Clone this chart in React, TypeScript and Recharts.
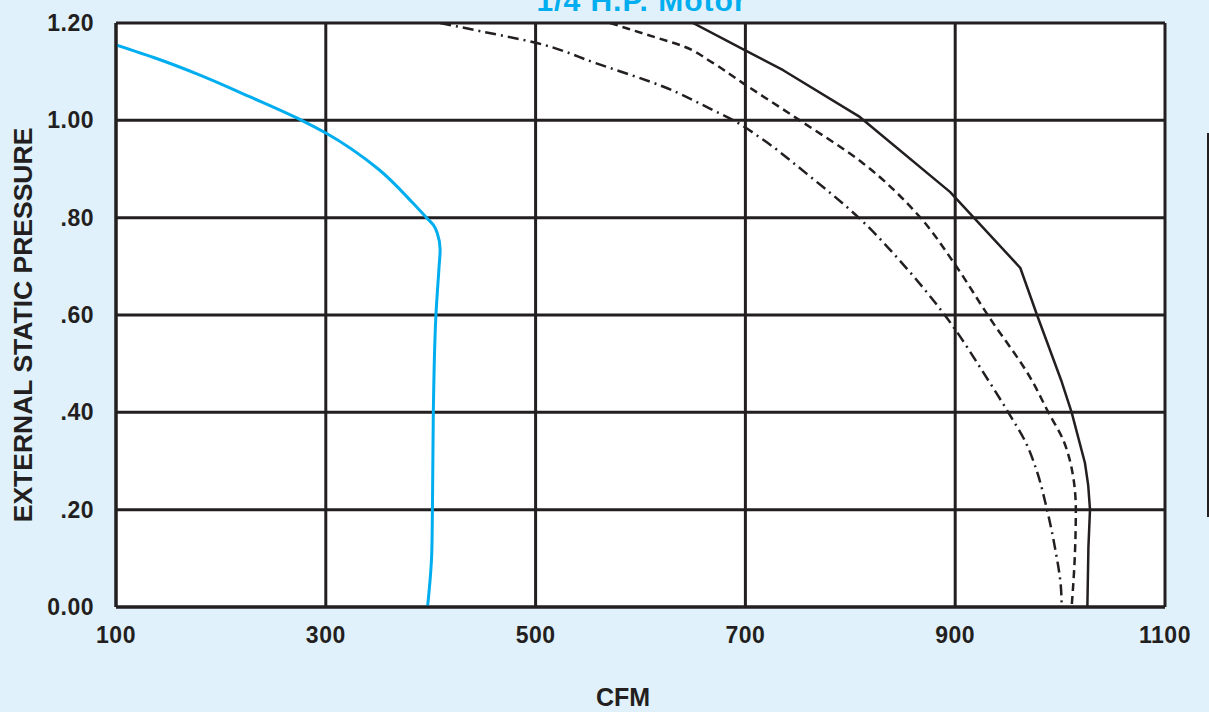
import { CartesianGrid, Label, Line, LineChart, XAxis, YAxis } from "recharts";

// fan curves: CFM vs external static pressure
const lowSpeedCfm = [100, 140, 180, 228, 277, 300, 350, 383, 396, 402.5, 406.3, 409, 408, 405, 402.5, 401.6, 401, 397];
const lowSpeedEsp = [1.155, 1.126, 1.093, 1.048, 1.0, 0.974, 0.9, 0.83, 0.8, 0.785, 0.768, 0.734, 0.7, 0.6, 0.4, 0.19, 0.11, 0];

const highSpeedCfm = [650, 698, 736, 809, 895, 962, 978, 1001, 1011, 1023.7, 1026.8, 1028.5, 1027, 1026];
const highSpeedEsp = [1.2, 1.146, 1.103, 1.007, 0.853, 0.697, 0.6, 0.466, 0.4, 0.296, 0.25, 0.2, 0.123, 0];

const medSpeedCfm = [571, 606, 641, 669, 698, 749, 812, 866, 901, 931, 973, 988.8, 1003, 1011, 1015, 1014, 1011];
const medSpeedEsp = [1.2, 1.176, 1.152, 1.118, 1.076, 1.004, 0.912, 0.802, 0.7, 0.6, 0.466, 0.4, 0.343, 0.285, 0.2, 0.103, 0];

const lowMedCfm = [409, 450, 499, 558, 622, 669, 688.5, 717, 758, 808, 852, 890, 931.5, 950.6, 967.5, 977.7, 987, 995, 1000.8, 1001.5];
const lowMedEsp = [1.2, 1.182, 1.16, 1.117, 1.069, 1.021, 1.0, 0.96, 0.891, 0.8, 0.7, 0.6, 0.466, 0.4, 0.337, 0.28, 0.205, 0.123, 0.04, 0];

const xTicks = [100, 300, 500, 700, 900, 1100];
const yTicks = [0, 0.2, 0.4, 0.6, 0.8, 1.0, 1.2];

const toPoints = (cfm: number[], esp: number[]) =>
  cfm.map((c, i) => ({ cfm: c, esp: esp[i] }));

const INK = "#231f20";
const CYAN = "#00aeef";
const FONT = "'Liberation Sans', Arial, sans-serif";

const formatEsp = (v: number) => {
  const s = v.toFixed(2);
  return v >= 1 || v === 0 ? s : s.slice(1);
};

export default function App() {
  return (
    <div
      style={{
        position: "absolute",
        left: 0,
        top: 0,
        width: 1209,
        height: 712,
        background: "#e0f1fb",
        overflow: "hidden",
        fontFamily: FONT,
      }}
    >
      <div
        style={{
          position: "absolute",
          left: 0,
          width: 1283,
          top: -16,
          textAlign: "center",
          color: CYAN,
          fontWeight: "bold",
          fontSize: 30,
          letterSpacing: 1,
          lineHeight: "34px",
        }}
      >
        1/4 H.P. Motor
      </div>
      <LineChart
        width={1209}
        height={712}
        margin={{ top: 23, right: 44, bottom: 75, left: 56 }}
      >
        <CartesianGrid stroke={INK} strokeWidth={3} fill="#fff" fillOpacity={1} />
        <XAxis
          type="number"
          dataKey="cfm"
          domain={[100, 1100]}
          ticks={xTicks}
          allowDataOverflow
          height={30}
          axisLine={{ stroke: INK, strokeWidth: 3 }}
          tickLine={false}
          tickSize={20}
          tickMargin={0}
          tick={{ fontSize: 23, fontWeight: "bold", fill: INK, fontFamily: FONT, letterSpacing: 0.5 }}
        >
          <Label
            content={() => (
              <text
                x={623}
                y={706}
                textAnchor="middle"
                fontSize={25}
                fontWeight="bold"
                fill={INK}
                fontFamily={FONT}
              >
                CFM
              </text>
            )}
          />
        </XAxis>
        <YAxis
          type="number"
          domain={[0, 1.2]}
          ticks={yTicks}
          allowDataOverflow
          width={60}
          axisLine={{ stroke: INK, strokeWidth: 3 }}
          tickLine={false}
          tickSize={10}
          tickMargin={12}
          tickFormatter={formatEsp}
          tick={{ fontSize: 23, fontWeight: "bold", fill: INK, fontFamily: FONT, letterSpacing: 0.5 }}
        >
          <Label
            content={() => (
              <text
                x={32}
                y={325}
                transform="rotate(-90 32 325)"
                textAnchor="middle"
                fontSize={26.5}
                fontWeight="bold"
                fill={INK}
                fontFamily={FONT}
              >
                EXTERNAL STATIC PRESSURE
              </text>
            )}
          />
        </YAxis>
        <Line
          data={toPoints(lowSpeedCfm, lowSpeedEsp)}
          dataKey="esp"
          type="monotoneY"
          stroke={CYAN}
          strokeWidth={3}
          dot={false}
          isAnimationActive={false}
        />
        <Line
          data={toPoints(lowMedCfm, lowMedEsp)}
          dataKey="esp"
          type="monotoneY"
          stroke={INK}
          strokeWidth={2.5}
          strokeDasharray="11 5 2 5"
          dot={false}
          isAnimationActive={false}
        />
        <Line
          data={toPoints(medSpeedCfm, medSpeedEsp)}
          dataKey="esp"
          type="monotoneY"
          stroke={INK}
          strokeWidth={2.5}
          strokeDasharray="8 5"
          dot={false}
          isAnimationActive={false}
        />
        <Line
          data={toPoints(highSpeedCfm, highSpeedEsp)}
          dataKey="esp"
          type="linear"
          stroke={INK}
          strokeWidth={2.5}
          strokeLinejoin="round"
          dot={false}
          isAnimationActive={false}
        />
      </LineChart>
      <div
        style={{
          position: "absolute",
          left: 1207,
          top: 133,
          width: 2,
          height: 384,
          background: INK,
        }}
      />
    </div>
  );
}
